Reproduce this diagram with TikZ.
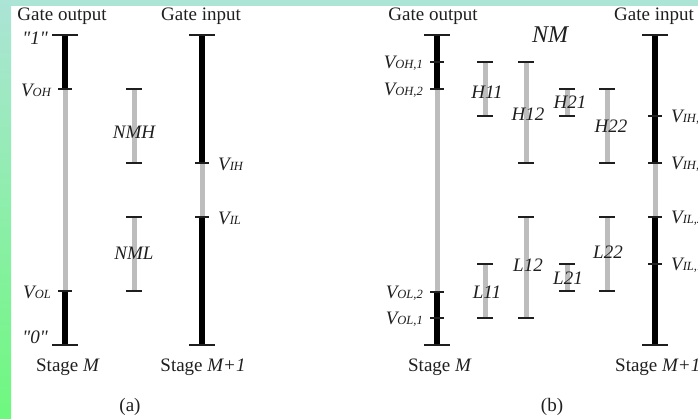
\documentclass[tikz,border=0pt]{standalone}
\usepackage{fontspec}
\setmainfont[Ligatures=TeXOff]{Liberation Serif}
\definecolor{topstrip}{HTML}{ACE4D6}
\definecolor{botgreen}{HTML}{6EF87E}
\newcommand\vsub[1]{\textit{V}{\fontsize{12.5}{13}\selectfont\itshape #1}}
\newcommand\mainbar[5]{%
  \draw[gry] (#1,#3) -- (#1,#4);
  \draw[blk] (#1,#2) -- (#1,#3);
  \draw[blk] (#1,#4) -- (#1,#5);
  \draw[capl] (#1-13,#2) -- (#1+13,#2);
  \draw[capl] (#1-13,#5) -- (#1+13,#5);}
\newcommand\tickat[2]{\draw[capl] (#1-7,#2) -- (#1+7,#2);}
\newcommand\nmbar[3]{%
  \draw[gry] (#1,#2) -- (#1,#3);
  \draw[capl] (#1-8,#2) -- (#1+8,#2);
  \draw[capl] (#1-8,#3) -- (#1+8,#3);}
\begin{document}
\begin{tikzpicture}[x=1pt,y=-1pt,
  lbl/.style={font=\fontsize{19}{21}\selectfont, inner sep=0pt, text=black!88},
  ilbl/.style={font=\fontsize{19}{21}\selectfont\itshape, inner sep=0pt, text=black!88},
  blk/.style={line width=6pt, black},
  gry/.style={line width=5pt, black!26},
  capl/.style={line width=2pt, black!88},
]
\useasboundingbox (0,0) rectangle (698,419);
% background
\fill[white] (0,0) rectangle (698,419);
\fill[topstrip] (0,0) rectangle (698,6);
\shade[top color=topstrip, bottom color=botgreen] (0,0) rectangle (11,419);

% ---------- panel (a) ----------
\node[lbl] (ga) at (62,16) {Gate output};
\node[lbl] (gia) at (201,16) {Gate input};
\mainbar{65}{35}{89}{291}{345}
\tickat{65}{89}
\tickat{65}{291}
\node[ilbl, anchor=east] (one) at (48,38) {"1"};
\node[ilbl, anchor=east] (voh) at (51,90) {\vsub{OH}};
\node[ilbl, anchor=east] (vol) at (51,292) {\vsub{OL}};
\node[ilbl, anchor=east] (zero) at (48,337) {"0"};
\nmbar{134}{89}{163}
\nmbar{134}{217}{291}
\node[ilbl] (nmh) at (134,132) {NMH};
\node[ilbl] (nml) at (134,253) {NML};
\mainbar{202}{35}{163}{217}{345}
\tickat{202}{163}
\tickat{202}{217}
\node[ilbl, anchor=west] (vih) at (218,164) {\vsub{IH}};
\node[ilbl, anchor=west] (vil) at (218,218) {\vsub{IL}};
\node[lbl] (sm) at (68,367) {Stage \textit{M}};
\node[lbl] (sm1) at (203,367) {Stage \textit{M+1}};
\node[lbl] (pa) at (130,407) {(a)};

% ---------- panel (b) ----------
\node[lbl] (gb) at (433,16) {Gate output};
\node[lbl] (gib) at (654,16) {Gate input};
\node[ilbl, font=\fontsize{24}{26}\selectfont\itshape] (nm) at (550,35) {NM};
\mainbar{437}{35}{89}{292}{345}
\tickat{437}{62}
\tickat{437}{89}
\tickat{437}{292}
\tickat{437}{318}
\node[ilbl, anchor=east] (voh1) at (423,63) {\vsub{OH,1}};
\node[ilbl, anchor=east] (voh2) at (423,90) {\vsub{OH,2}};
\node[ilbl, anchor=east] (vol2) at (423,293) {\vsub{OL,2}};
\node[ilbl, anchor=east] (vol1) at (423,319) {\vsub{OL,1}};

\nmbar{485}{62}{116}
\nmbar{526}{62}{163}
\nmbar{567}{89}{116}
\nmbar{607}{89}{163}
\nmbar{485}{264}{318}
\nmbar{526}{217}{318}
\nmbar{567}{264}{291}
\nmbar{607}{217}{291}
\node[ilbl] (h11) at (487,92) {H11};
\node[ilbl] (h12) at (528,114) {H12};
\node[ilbl] (h21) at (570,102) {H21};
\node[ilbl] (h22) at (611,126) {H22};
\node[ilbl] (l11) at (487,292) {L11};
\node[ilbl] (l12) at (528,265) {L12};
\node[ilbl] (l21) at (568,278) {L21};
\node[ilbl] (l22) at (608,252) {L22};

\mainbar{655}{35}{163}{217}{345}
\tickat{655}{116}
\tickat{655}{163}
\tickat{655}{217}
\tickat{655}{264}
\node[ilbl, anchor=west] (vih1) at (671,117) {\vsub{IH,1}};
\node[ilbl, anchor=west] (vih2) at (671,164) {\vsub{IH,2}};
\node[ilbl, anchor=west] (vil2) at (671,218) {\vsub{IL,2}};
\node[ilbl, anchor=west] (vil1) at (671,265) {\vsub{IL,1}};
\node[lbl] (smb) at (440,367) {Stage \textit{M}};
\node[lbl, anchor=west] (sm1b) at (615,367) {Stage \textit{M+1}};
\node[lbl] (pb) at (552,407) {(b)};
\end{tikzpicture}
\end{document}
